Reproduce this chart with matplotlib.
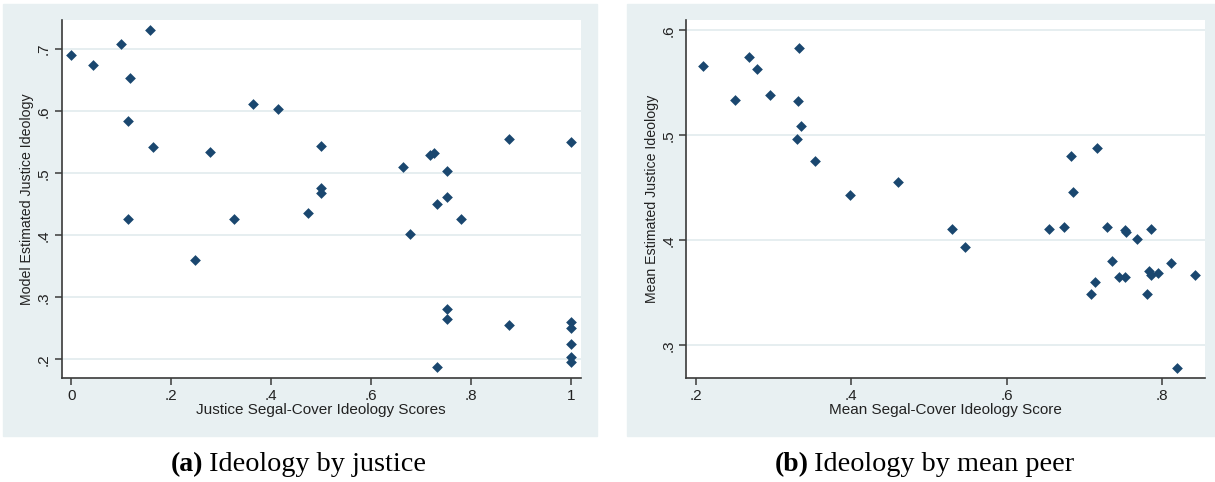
import matplotlib
matplotlib.use('Agg')
import matplotlib.pyplot as plt
from matplotlib.patches import Rectangle
from matplotlib.ticker import FuncFormatter

# panel (a): justice Segal-Cover score vs model estimate
justice_x = [0.0, 0.044, 0.099, 0.158, 0.118, 0.114, 0.164, 0.114, 0.248, 0.278,
             0.325, 0.364, 0.414, 0.499, 0.499, 0.499, 0.474, 0.664, 0.678, 0.717,
             0.726, 0.731, 0.751, 0.751, 0.780, 0.751, 0.751, 0.731, 0.875, 0.875,
             1.0, 1.0, 1.0, 1.0, 1.0, 1.0]
justice_y = [0.691, 0.675, 0.709, 0.731, 0.653, 0.584, 0.542, 0.426, 0.360, 0.534,
             0.426, 0.612, 0.603, 0.544, 0.477, 0.468, 0.436, 0.510, 0.402, 0.530,
             0.532, 0.450, 0.504, 0.462, 0.426, 0.282, 0.265, 0.187, 0.556, 0.255,
             0.551, 0.260, 0.251, 0.225, 0.204, 0.195]

# panel (b): mean peer score vs mean estimate
peer_x = [0.209, 0.250, 0.268, 0.279, 0.295, 0.333, 0.332, 0.335, 0.330, 0.354,
          0.398, 0.460, 0.530, 0.546, 0.655, 0.674, 0.683, 0.685, 0.716, 0.729,
          0.752, 0.753, 0.786, 0.768, 0.736, 0.811, 0.745, 0.752, 0.783, 0.786,
          0.794, 0.842, 0.714, 0.709, 0.781, 0.819]
peer_y = [0.566, 0.534, 0.575, 0.563, 0.539, 0.583, 0.533, 0.509, 0.497, 0.476,
          0.443, 0.456, 0.411, 0.394, 0.411, 0.413, 0.480, 0.446, 0.488, 0.413,
          0.410, 0.408, 0.411, 0.401, 0.380, 0.379, 0.365, 0.365, 0.371, 0.367,
          0.369, 0.367, 0.360, 0.349, 0.349, 0.279]

bg = '#e8f0f2'
navy = '#1a476f'
W, H = 1215, 482

plt.rcParams['font.family'] = ['Liberation Sans', 'DejaVu Sans']

fig = plt.figure(figsize=(W / 100, H / 100), dpi=100)

# stata style graph regions, behind the axes
for x0, x1 in [(3, 597), (627, 1215)]:
    fig.patches.append(Rectangle((x0 / W, (H - 436) / H), (x1 - x0) / W, 432 / H,
                                 transform=fig.transFigure, color=bg, zorder=-5))


def fmt(v, pos):
    if abs(v) < 1e-9:
        return '0'
    if abs(v - 1) < 1e-9:
        return '1'
    return ('%.1f' % v).lstrip('0')


def panel(left, right, xs, ys, xlim, ylim, xt, yt, xlab, ylab):
    ax = fig.add_axes([left / W, (H - 378) / H, (right - left) / W, (378 - 20) / H])
    ax.set_zorder(2)
    ax.set_facecolor('white')
    ax.scatter(xs, ys, marker='D', s=30, color=navy, linewidths=0, zorder=3)
    ax.set_xlim(xlim)
    ax.set_ylim(ylim)
    ax.set_xticks(xt)
    ax.set_yticks(yt)
    ax.xaxis.set_major_formatter(FuncFormatter(fmt))
    ax.yaxis.set_major_formatter(FuncFormatter(fmt))
    ax.grid(axis='y', color='#e6eef0', lw=1.4)
    ax.set_axisbelow(True)
    for s in ['top', 'right']:
        ax.spines[s].set_visible(False)
    for s in ['left', 'bottom']:
        ax.spines[s].set_color('#3a3a3a')
        ax.spines[s].set_linewidth(1.2)
    ax.tick_params(length=5, width=1.1, color='#3a3a3a', labelcolor='#222222',
                   labelsize=11, pad=3)
    ax.tick_params(axis='y', labelrotation=90)
    for lab in ax.get_yticklabels():
        lab.set_va('center')
    ax.set_xlabel(xlab, fontsize=11, color='#222222', labelpad=0)
    ax.set_ylabel(ylab, fontsize=10.2, color='#222222', labelpad=2)
    return ax


panel(61.5, 581, justice_x, justice_y, (-0.020, 1.020), (0.170, 0.747),
      [0, 0.2, 0.4, 0.6, 0.8, 1], [0.2, 0.3, 0.4, 0.5, 0.6, 0.7],
      'Justice Segal-Cover Ideology Scores', 'Model Estimated Justice Ideology')
panel(686.4, 1205, peer_x, peer_y, (0.188, 0.855), (0.269, 0.610),
      [0.2, 0.4, 0.6, 0.8], [0.3, 0.4, 0.5, 0.6],
      'Mean Segal-Cover Ideology Score', 'Mean Estimated Justice Ideology')

# captions: bold tag + regular text
renderer = fig.canvas.get_renderer()
for x0, tag, txt in [(171, '(a)', ' Ideology by justice'), (775, '(b)', ' Ideology by mean peer')]:
    t = fig.text(x0 / W, 11 / H, tag, fontsize=20, fontweight='bold',
                 family=['Liberation Serif', 'DejaVu Serif'], va='baseline', ha='left')
    bb = t.get_window_extent(renderer)
    fig.text((bb.x1 - 2) / W, 11 / H, txt, fontsize=20.3,
             family=['Liberation Serif', 'DejaVu Serif'], va='baseline', ha='left')

fig.savefig('out.png', dpi=100, facecolor='white')
